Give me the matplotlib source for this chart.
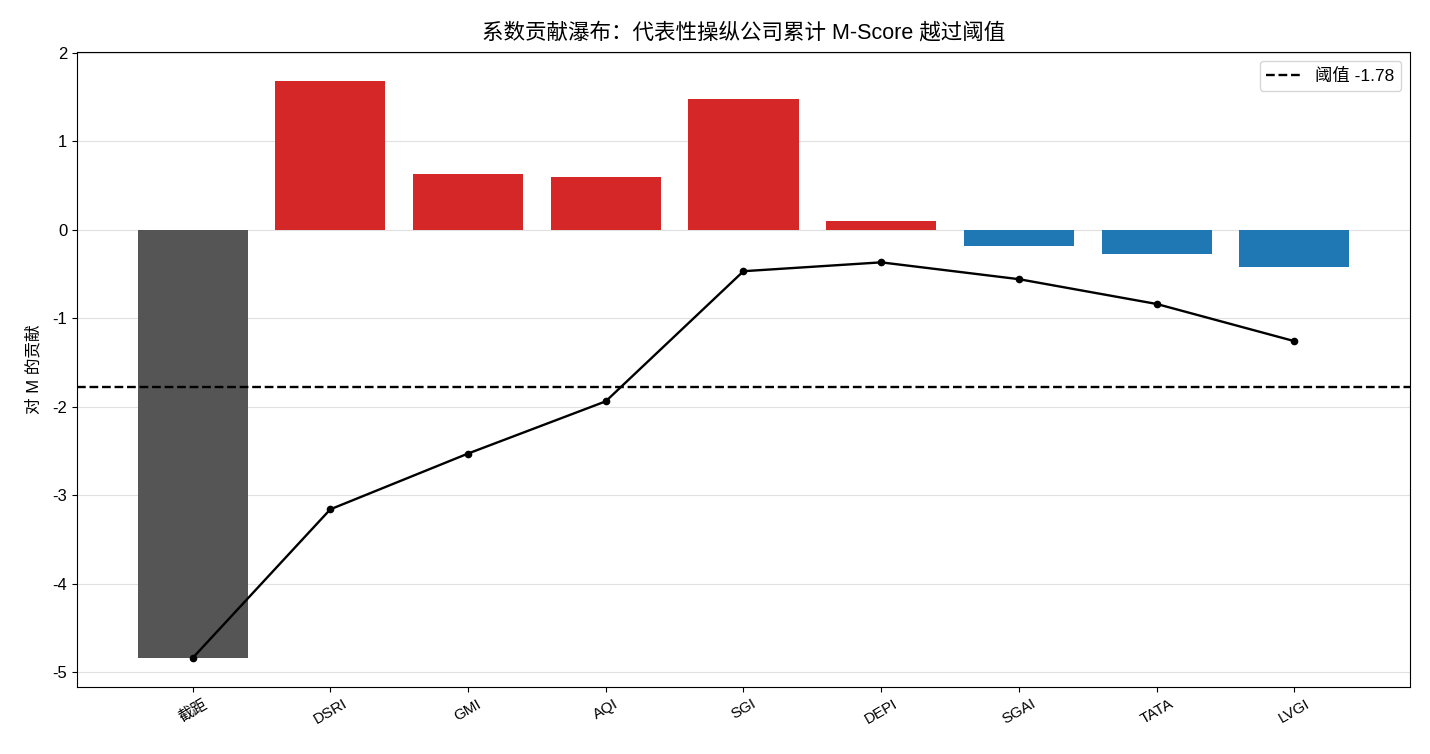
import matplotlib
matplotlib.use("Agg")
import matplotlib.pyplot as plt
import numpy as np

plt.rcParams['font.family'] = ['Liberation Sans', 'Noto Sans CJK SC', 'DejaVu Sans']
plt.rcParams['axes.unicode_minus'] = False

categories = ['截距', 'DSRI', 'GMI', 'AQI', 'SGI', 'DEPI', 'SGAI', 'TATA', 'LVGI']
contributions = [-4.84, 1.68, 0.63, 0.59, 1.47, 0.10, -0.19, -0.28, -0.42]
threshold = -1.78

colors = []
for i, v in enumerate(contributions):
    if i == 0:
        colors.append('#555555')
    elif v >= 0:
        colors.append('#d62728')
    else:
        colors.append('#1f77b4')

cumulative = np.cumsum(contributions)
x = np.arange(len(categories))

fig = plt.figure(figsize=(14.3, 7.54), dpi=100)
ax = fig.add_axes([0.0538, 0.089, 0.9322, 0.842])
ax.bar(x, contributions, width=0.8, color=colors, zorder=2)
ax.plot(x, cumulative, color='black', marker='o', markersize=4.5, linewidth=1.7, zorder=3)
ax.axhline(threshold, color='black', linestyle='--', linewidth=1.7, label=f'阈值 {threshold}', zorder=3)
ax.yaxis.grid(True, color='#e0e0e0', linewidth=0.8, zorder=0)
ax.set_axisbelow(True)
ax.set_xticks(x)
ax.set_xticklabels(categories, rotation=30, fontsize=11)
ax.tick_params(axis='y', labelsize=12)
ax.set_ylabel('对 M 的贡献', fontsize=12, labelpad=8)
ax.set_title('系数贡献瀑布：代表性操纵公司累计 M-Score 越过阈值', fontsize=15.5, pad=10)
ax.legend(loc='upper right', fontsize=12.5)

fig.savefig('out.png', dpi=100)
